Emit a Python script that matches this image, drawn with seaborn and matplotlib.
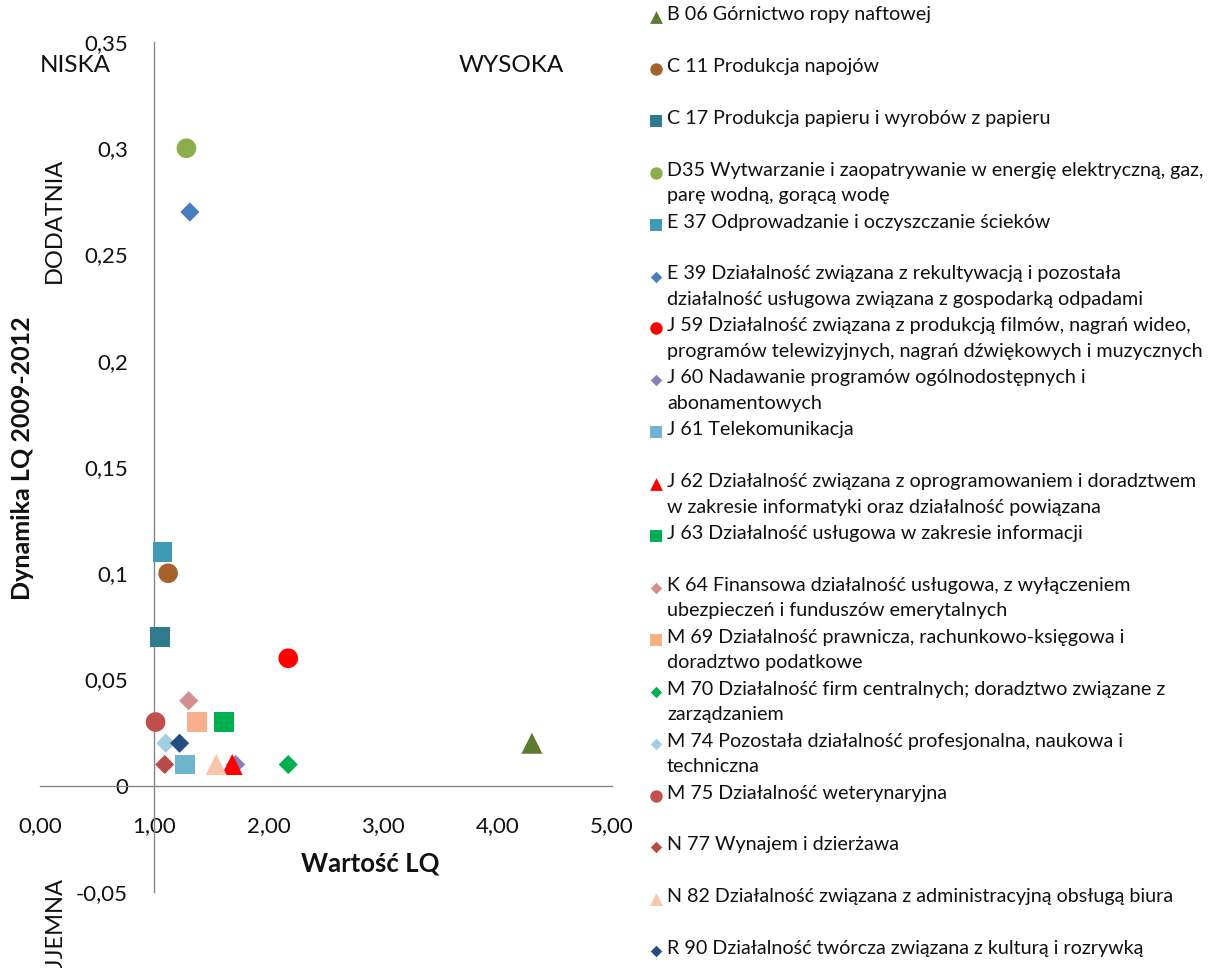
import numpy as np
import pandas as pd
import matplotlib
matplotlib.use("Agg")
import matplotlib.pyplot as plt
import seaborn as sns

# ---------------- data ----------------
codes = ["B 06", "C 11", "C 17", "D35", "E 37", "E 39", "J 59", "J 60", "J 61", "J 62",
         "J 63", "K 64", "M 69", "M 70", "M 74", "M 75", "N 77", "N 82", "R 90"]
labels = [
    "B 06 Górnictwo ropy naftowej",
    "C 11 Produkcja napojów",
    "C 17 Produkcja papieru i wyrobów z papieru",
    "D35 Wytwarzanie i zaopatrywanie w energię elektryczną, gaz,\nparę wodną, gorącą wodę",
    "E 37 Odprowadzanie i oczyszczanie ścieków",
    "E 39 Działalność związana z rekultywacją i pozostała\ndziałalność usługowa związana z gospodarką odpadami",
    "J 59 Działalność związana z produkcją filmów, nagrań wideo,\nprogramów telewizyjnych, nagrań dźwiękowych i muzycznych",
    "J 60 Nadawanie programów ogólnodostępnych i\nabonamentowych",
    "J 61 Telekomunikacja",
    "J 62 Działalność związana z oprogramowaniem i doradztwem\nw zakresie informatyki oraz działalność powiązana",
    "J 63 Działalność usługowa w zakresie informacji",
    "K 64 Finansowa działalność usługowa, z wyłączeniem\nubezpieczeń i funduszów emerytalnych",
    "M 69 Działalność prawnicza, rachunkowo-księgowa i\ndoradztwo podatkowe",
    "M 70 Działalność firm centralnych; doradztwo związane z\nzarządzaniem",
    "M 74 Pozostała działalność profesjonalna, naukowa i\ntechniczna",
    "M 75 Działalność weterynaryjna",
    "N 77 Wynajem i dzierżawa",
    "N 82 Działalność związana z administracyjną obsługą biura",
    "R 90 Działalność twórcza związana z kulturą i rozrywką",
]
lq_value = [4.30, 1.12, 1.05, 1.28, 1.07, 1.31, 2.17, 1.71, 1.27, 1.68,
            1.61, 1.30, 1.37, 2.17, 1.10, 1.01, 1.09, 1.54, 1.22]
lq_dynamics = [0.02, 0.10, 0.07, 0.30, 0.11, 0.27, 0.06, 0.01, 0.01, 0.01,
               0.03, 0.04, 0.03, 0.01, 0.02, 0.03, 0.01, 0.01, 0.02]
colors = ["#5f7b31", "#a5622b", "#2f7a8c", "#8cad4b", "#4099b5", "#4a7cc0", "#ff0000",
          "#8d7cb6", "#6eb4cc", "#ff0000", "#00b050", "#d48e8e", "#f7b08a", "#00b050",
          "#a0cfe0", "#c0504d", "#b94a4a", "#fac5ad", "#244c80"]
marker_shapes = ["^", "o", "s", "o", "s", "D", "o", "D", "s", "^",
                 "s", "D", "s", "D", "D", "o", "D", "^", "D"]

xtick_values = [0, 1, 2, 3, 4, 5]
xtick_labels = ["0,00", "1,00", "2,00", "3,00", "4,00", "5,00"]
ytick_values = [-0.05, 0, 0.05, 0.10, 0.15, 0.20, 0.25, 0.30, 0.35]
ytick_labels = ["-0,05", "0", "0,05", "0,1", "0,15", "0,2", "0,25", "0,3", "0,35"]

# ---------------- style ----------------
sns.set_style("white")
FONT = ["Lato", "DejaVu Sans"]
plt.rcParams["font.family"] = FONT
TXT = "#111111"

W, H = 1214, 968
fig = plt.figure(figsize=(W / 100, H / 100), dpi=100)

# legend layer in pixel coordinates
lax = fig.add_axes([0, 0, 1, 1])
lax.set_xlim(0, W)
lax.set_ylim(H, 0)
lax.axis("off")

ax = fig.add_axes([40 / W, (H - 892) / H, 572 / W, 850 / H])
ax.patch.set_alpha(0)

df = pd.DataFrame({"code": codes, "lq": lq_value, "dyn": lq_dynamics})
big = {"o": 200, "s": 200, "^": 230, "D": 95}
sns.scatterplot(data=df, x="lq", y="dyn", hue="code", style="code", size="code",
                palette=dict(zip(codes, colors)),
                markers=dict(zip(codes, marker_shapes)),
                sizes={c: big[m] for c, m in zip(codes, marker_shapes)},
                linewidth=0, legend=False, ax=ax, zorder=3, clip_on=False)

ax.set_xlim(0, 5)
ax.set_ylim(-0.05, 0.35)
for s in ["top", "right"]:
    ax.spines[s].set_visible(False)
ax.spines["left"].set_position(("data", 1.0))
ax.spines["bottom"].set_position(("data", 0.0))
for s in ["left", "bottom"]:
    ax.spines[s].set_color("#868686")
    ax.spines[s].set_linewidth(1.0)

ax.set_xticks(xtick_values)
ax.set_xticklabels(xtick_labels)
ax.set_yticks(ytick_values)
ax.set_yticklabels(ytick_labels)
ax.tick_params(axis="x", direction="out", length=7, width=1, color="#868686",
               pad=15, labelsize=16, labelcolor=TXT)
ax.tick_params(axis="y", direction="out", length=7, width=1, color="#868686",
               pad=12, labelsize=16, labelcolor=TXT)

ax.set_xlabel("Wartość LQ", fontsize=18.5, fontweight="bold", color=TXT)
ax.set_ylabel("Dynamika LQ 2009-2012", fontsize=18, fontweight="bold", color=TXT)
ax.xaxis.set_label_coords(0.577, 0.048)
ax.yaxis.set_label_coords(-0.010, 0.51)

ax.text(0.0, 0.339, "NISKA", fontsize=17.5, ha="left", va="center", color=TXT)
ax.text(3.66, 0.339, "WYSOKA", fontsize=17.5, ha="left", va="center", color=TXT)
ax.text(0.13, 0.266, "DODATNIA", fontsize=17, rotation=90, ha="center", va="center",
        color=TXT)
ax.text(0.13, -0.066, "UJEMNA", fontsize=17, rotation=90, ha="center", va="center",
        color=TXT, clip_on=False)

# ---------------- legend ----------------
small = {"o": 80, "s": 80, "^": 85, "D": 34}
y0, step = 17, 51.9
for i, (lab, col, m) in enumerate(zip(labels, colors, marker_shapes)):
    yy = y0 + step * i
    lax.scatter([656], [yy], s=small[m], marker=m, color=col, linewidths=0)
    lax.text(667, yy - 11, lab, fontsize=14.2, ha="left", va="top", color=TXT,
             linespacing=1.6)

fig.savefig("out.png", dpi=100)
